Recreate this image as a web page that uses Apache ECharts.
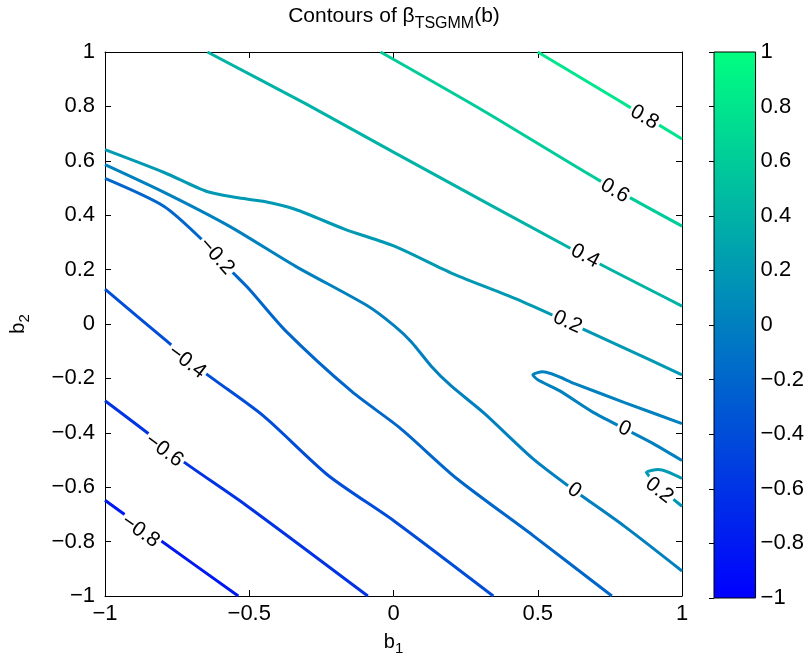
<!DOCTYPE html>
<html>
<head>
<meta charset="utf-8">
<script src="https://cdn.jsdelivr.net/npm/echarts@6/dist/echarts.min.js"></script>
<style>
  html, body { margin: 0; background: #fff; }
  #chart { width: 807px; height: 661px; }
</style>
</head>
<body>
<div id="chart"></div>
<script>
// contour lines, [b1, b2] pairs
const lvlM08 = [[-1, -0.648], [-0.914, -0.714], [-0.818, -0.788], [-0.538, -1]];
const lvlM06 = [[-1, -0.282], [-0.836, -0.414], [-0.743, -0.495], [-0.51, -0.667], [-0.089, -1]];
const lvlM04 = [[-1, 0.128], [-0.795, -0.055], [-0.658, -0.176], [-0.452, -0.337], [-0.226, -0.557], [0.003, -0.725], [0.346, -1]];
const lvlM02 = [[-1, 0.535], [-0.795, 0.432], [-0.658, 0.304], [-0.568, 0.201], [-0.5, 0.128], [-0.373, -0.026],
  [-0.144, -0.249], [0.021, -0.381], [0.219, -0.568], [0.483, -0.777], [0.757, -1]];
const lvl00a = [[-1, 0.586], [-0.795, 0.484], [-0.568, 0.359], [-0.339, 0.212], [-0.089, 0.066],
  [0.003, -0.007], [0.062, -0.066], [0.13, -0.154], [0.199, -0.227], [0.312, -0.326], [0.483, -0.495],
  [0.627, -0.612], [0.801, -0.744], [1, -0.908]];
const lvl00b = [[1, -0.366], [0.801, -0.289], [0.63, -0.22], [0.517, -0.176], [0.483, -0.187], [0.5, -0.205],
  [0.575, -0.245], [0.688, -0.322], [0.801, -0.385], [0.894, -0.436], [1, -0.502]];
const lvl02a = [[-1, 0.641], [-0.795, 0.557], [-0.647, 0.487], [-0.545, 0.465], [-0.452, 0.451], [-0.339, 0.421],
  [-0.168, 0.348], [0.003, 0.286], [0.209, 0.183], [0.425, 0.092], [0.61, 0.004], [0.791, -0.084], [1, -0.187]];
const lvl02b = [[1, -0.568], [0.918, -0.535], [0.877, -0.546], [0.894, -0.568], [0.938, -0.615], [1, -0.67]];
const lvl04 = [[-0.645, 1], [-0.305, 0.81], [0.003, 0.63], [0.664, 0.249], [1, 0.066]];
const lvl06 = [[-0.045, 1], [0.31, 0.785], [0.71, 0.53], [1, 0.36]];
const lvl08 = [[0.5, 1], [0.72, 0.86], [0.83, 0.79], [1, 0.68]];

const levels = [-0.8, -0.6, -0.4, -0.2, 0, 0, 0.2, 0.2, 0.4, 0.6, 0.8];
const lines = [lvlM08, lvlM06, lvlM04, lvlM02, lvl00a, lvl00b, lvl02a, lvl02b, lvl04, lvl06, lvl08];

// inline contour labels
const labelText = ['0.8', '0.6', '0.4', '0.2', '0', '0', '0.2', '\u22120.2', '\u22120.4', '\u22120.6', '\u22120.8'];
const labelB1 = [0.87, 0.767, 0.664, 0.603, 0.627, 0.801, 0.921, -0.613, -0.716, -0.795, -0.877];
const labelB2 = [0.76, 0.49, 0.25, 0.007, -0.612, -0.385, -0.612, 0.249, -0.139, -0.465, -0.762];
const labelAngle = [-30, -30, -28, -25, -35, -25, -38, -48, -37, -37, -35];

const xTicks = [-1, -0.5, 0, 0.5, 1];
const yTicks = [-1, -0.8, -0.6, -0.4, -0.2, 0, 0.2, 0.4, 0.6, 0.8, 1];
const cbarRange = [-1, 1];

const font = 'Liberation Sans';

// matlab "winter" colormap
function winter(v) {
  const t = (v + 1) / 2;
  return 'rgb(0,' + Math.round(255 * t) + ',' + Math.round(255 * (1 - 0.5 * t)) + ')';
}
const fmt = v => String(Math.round(v * 100) / 100).replace('-', '\u2212');

const chart = echarts.init(document.getElementById('chart'));

const axisCommon = {
  type: 'value',
  axisLine: { onZero: false, lineStyle: { color: '#000', width: 1 } },
  axisTick: { inside: true, length: 6, lineStyle: { color: '#000' } },
  splitLine: { show: false }
};
const tickLabel = { color: '#000', fontSize: 22, fontFamily: font, formatter: fmt };
const subRich = {
  b: { fontSize: 20, fontFamily: font, fontWeight: 'normal', color: '#000', lineHeight: 20, verticalAlign: 'top' },
  s: { fontSize: 15, fontFamily: font, fontWeight: 'normal', color: '#000', lineHeight: 33, verticalAlign: 'middle' }
};
const titleRich = {
  b: Object.assign({}, subRich.b, { fontSize: 21, lineHeight: 22 }),
  s: Object.assign({}, subRich.s, { fontSize: 16, lineHeight: 35 })
};

const contourSeries = lines.map((pts, i) => ({
  type: 'line',
  xAxisIndex: 0,
  yAxisIndex: 0,
  data: pts,
  showSymbol: false,
  smooth: 0.25,
  silent: true,
  lineStyle: { width: 3, color: winter(levels[i]) },
  z: 2
}));

chart.setOption({
  animation: false,
  title: {
    text: '{b|Contours of \u03b2}{s|TSGMM}{b|(b)}',
    left: 389,
    top: 1,
    textAlign: 'center',
    textStyle: { fontWeight: 'normal', rich: titleRich }
  },
  grid: [
    { left: 97, top: 52, width: 585, height: 546 },
    { left: 714, top: 52, width: 43, height: 546 }
  ],
  xAxis: [
    Object.assign({}, axisCommon, {
      gridIndex: 0, position: 'bottom', min: xTicks[0], max: xTicks[xTicks.length - 1], interval: 0.5,
      axisLabel: Object.assign({ margin: 7 }, tickLabel),
      name: '{b|b}{s|1}', nameLocation: 'middle', nameGap: 36,
      nameTextStyle: { rich: subRich }
    }),
    Object.assign({}, axisCommon, {
      gridIndex: 0, position: 'top', min: xTicks[0], max: xTicks[xTicks.length - 1], interval: 0.5,
      axisLabel: { show: false }
    }),
    { type: 'value', gridIndex: 1, min: 0, max: 1, show: false }
  ],
  yAxis: [
    Object.assign({}, axisCommon, {
      gridIndex: 0, position: 'left', min: yTicks[0], max: yTicks[yTicks.length - 1], interval: 0.2,
      axisLabel: Object.assign({ margin: 10 }, tickLabel),
      name: '{b|b}{s|2}', nameLocation: 'middle', nameGap: 64,
      nameTextStyle: { rich: subRich }
    }),
    Object.assign({}, axisCommon, {
      gridIndex: 0, position: 'right', min: yTicks[0], max: yTicks[yTicks.length - 1], interval: 0.2,
      axisLabel: { show: false }
    }),
    Object.assign({}, axisCommon, {
      gridIndex: 1, position: 'right', min: cbarRange[0], max: cbarRange[1], interval: 0.2,
      axisLine: { show: false },
      axisTick: { inside: true, length: 5, lineStyle: { color: '#000' } },
      axisLabel: Object.assign({ margin: 5 }, tickLabel)
    })
  ],
  series: contourSeries.concat([
    {
      // contour labels, white box makes the gap in the line
      type: 'custom',
      xAxisIndex: 0,
      yAxisIndex: 0,
      silent: true,
      z: 5,
      data: labelText.map((t, i) => [labelB1[i], labelB2[i], i]),
      renderItem: function (params, api) {
        const i = api.value(2);
        const p = api.coord([api.value(0), api.value(1)]);
        return {
          type: 'text',
          x: p[0],
          y: p[1],
          rotation: labelAngle[i] * Math.PI / 180,
          style: {
            text: labelText[i],
            fill: '#000',
            font: '21px "Liberation Sans"',
            align: 'center',
            verticalAlign: 'middle',
            backgroundColor: '#fff',
            padding: [0, 2]
          }
        };
      }
    },
    {
      // colorbar
      type: 'custom',
      xAxisIndex: 2,
      yAxisIndex: 2,
      silent: true,
      data: [[0, cbarRange[1], 1, cbarRange[0]]],
      renderItem: function (params, api) {
        const p0 = api.coord([api.value(0), api.value(1)]);
        const p1 = api.coord([api.value(2), api.value(3)]);
        return {
          type: 'rect',
          shape: { x: p0[0], y: p0[1], width: p1[0] - p0[0], height: p1[1] - p0[1] },
          style: {
            fill: new echarts.graphic.LinearGradient(0, 0, 0, 1, [
              { offset: 0, color: winter(cbarRange[1]) },
              { offset: 1, color: winter(cbarRange[0]) }
            ]),
            stroke: '#000',
            lineWidth: 1
          }
        };
      }
    }
  ])
});
</script>
</body>
</html>
